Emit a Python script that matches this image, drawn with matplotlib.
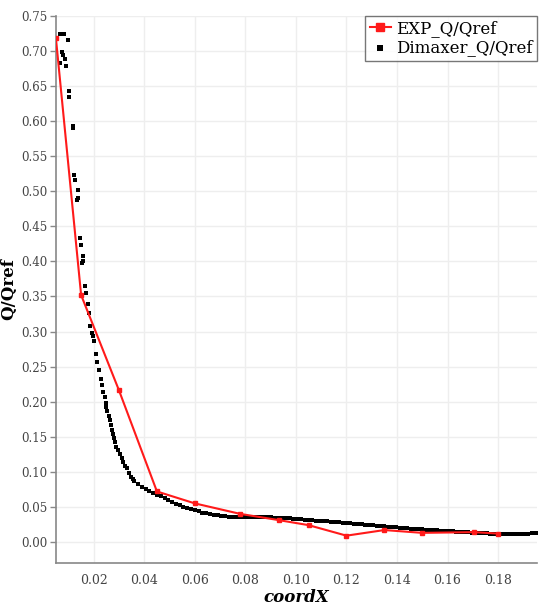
import matplotlib
matplotlib.use("Agg")
import matplotlib.pyplot as plt

# EXP data (red)
exp_x = [0.005, 0.015, 0.030, 0.045, 0.060, 0.078, 0.0935, 0.105, 0.120, 0.135, 0.150, 0.1705, 0.180]
exp_y = [0.719, 0.352, 0.216, 0.072, 0.055, 0.040, 0.031, 0.024, 0.009, 0.017, 0.013, 0.014, 0.012]

# Dimaxer data (black) - sparse steep part
dim_sparse_x = [0.0066, 0.0083, 0.0099, 0.0074, 0.0077, 0.0086, 0.0066, 0.0092, 0.0103, 0.0103,
                0.0116, 0.0118, 0.0122, 0.0125, 0.0138, 0.0134, 0.0136, 0.0145, 0.0148, 0.0158,
                0.0154, 0.0156, 0.0165, 0.0168, 0.0178, 0.0182, 0.0187, 0.0193, 0.0198, 0.0202,
                0.0207, 0.0214, 0.0220, 0.0227, 0.0231, 0.0237, 0.0244, 0.0248, 0.0250, 0.0253,
                0.0259, 0.0264, 0.0268, 0.0271, 0.0276, 0.0280, 0.0285, 0.0290, 0.0297, 0.0303,
                0.0310, 0.0317, 0.0323, 0.0330, 0.0338, 0.0346, 0.0354]
dim_sparse_y = [0.724, 0.724, 0.716, 0.698, 0.694, 0.689, 0.683, 0.679, 0.643, 0.634,
                0.593, 0.590, 0.523, 0.516, 0.502, 0.488, 0.490, 0.433, 0.423, 0.407,
                0.397, 0.400, 0.365, 0.355, 0.339, 0.327, 0.308, 0.298, 0.293, 0.286,
                0.268, 0.256, 0.245, 0.233, 0.224, 0.214, 0.206, 0.198, 0.193, 0.186,
                0.180, 0.174, 0.167, 0.160, 0.154, 0.148, 0.142, 0.136, 0.131, 0.126,
                0.120, 0.114, 0.109, 0.105, 0.099, 0.093, 0.090]

# Dimaxer data (black) - dense tail
dim_dense_x = [0.0360, 0.0375, 0.0390, 0.0405, 0.0420, 0.0435, 0.0450, 0.0465, 0.0480, 0.0495,
               0.0510, 0.0525, 0.0540, 0.0555, 0.0570, 0.0585, 0.0600, 0.0615, 0.0630, 0.0645,
               0.0660, 0.0675, 0.0690, 0.0705, 0.0720, 0.0735, 0.0750, 0.0765, 0.0780, 0.0795,
               0.0810, 0.0825, 0.0840, 0.0855, 0.0870, 0.0885, 0.0900, 0.0915, 0.0930, 0.0945,
               0.0960, 0.0975, 0.0990, 0.1005, 0.1020, 0.1035, 0.1050, 0.1065, 0.1080, 0.1095,
               0.1110, 0.1125, 0.1140, 0.1155, 0.1170, 0.1185, 0.1200, 0.1215, 0.1230, 0.1245,
               0.1260, 0.1275, 0.1290, 0.1305, 0.1320, 0.1335, 0.1350, 0.1365, 0.1380, 0.1395,
               0.1410, 0.1425, 0.1440, 0.1455, 0.1470, 0.1485, 0.1500, 0.1515, 0.1530, 0.1545,
               0.1560, 0.1575, 0.1590, 0.1605, 0.1620, 0.1635, 0.1650, 0.1665, 0.1680, 0.1695,
               0.1710, 0.1725, 0.1740, 0.1755, 0.1770, 0.1785, 0.1800, 0.1815, 0.1830, 0.1845,
               0.1860, 0.1875, 0.1890, 0.1905, 0.1920, 0.1935, 0.1950]
dim_dense_y = [0.0865, 0.0825, 0.0790, 0.0760, 0.0730, 0.0700, 0.0675, 0.0650, 0.0620, 0.0595,
               0.0570, 0.0545, 0.0520, 0.0500, 0.0480, 0.0465, 0.0450, 0.0435, 0.0420, 0.0410,
               0.0400, 0.0390, 0.0380, 0.0372, 0.0368, 0.0363, 0.0360, 0.0360, 0.0360, 0.0360,
               0.0358, 0.0357, 0.0356, 0.0355, 0.0353, 0.0352, 0.0350, 0.0348, 0.0345, 0.0342,
               0.0340, 0.0336, 0.0332, 0.0328, 0.0324, 0.0320, 0.0315, 0.0310, 0.0305, 0.0300,
               0.0296, 0.0292, 0.0288, 0.0284, 0.0280, 0.0276, 0.0272, 0.0267, 0.0262, 0.0257,
               0.0252, 0.0247, 0.0242, 0.0237, 0.0232, 0.0227, 0.0222, 0.0217, 0.0212, 0.0208,
               0.0204, 0.0200, 0.0196, 0.0192, 0.0188, 0.0184, 0.0180, 0.0176, 0.0172, 0.0168,
               0.0164, 0.0160, 0.0156, 0.0153, 0.0150, 0.0147, 0.0144, 0.0141, 0.0138, 0.0135,
               0.0132, 0.0129, 0.0126, 0.0123, 0.0120, 0.0118, 0.0116, 0.0115, 0.0114, 0.0113,
               0.0112, 0.0112, 0.0112, 0.0113, 0.0118, 0.0128, 0.0122]

x_ticks = [0.02, 0.04, 0.06, 0.08, 0.10, 0.12, 0.14, 0.16, 0.18]
y_ticks = [0.00, 0.05, 0.10, 0.15, 0.20, 0.25, 0.30, 0.35, 0.40, 0.45, 0.50, 0.55, 0.60, 0.65, 0.70, 0.75]

plt.rcParams['font.family'] = ['DejaVu Serif']

fig = plt.figure(figsize=(5.53, 6.09), dpi=100)
ax = fig.add_axes([0.101, 0.0755, 0.870, 0.8985])

ax.scatter(dim_sparse_x + dim_dense_x, dim_sparse_y + dim_dense_y, s=8, marker='s',
           color='black', linewidths=0, zorder=3, label='Dimaxer_Q/Qref')
ax.plot(exp_x, exp_y, color='#ff1a1a', lw=1.5, marker='s', markersize=3.5,
        zorder=4, label='EXP_Q/Qref')

ax.set_xlim(0.005, 0.1954)
ax.set_ylim(-0.03, 0.75)
ax.set_xticks(x_ticks)
ax.set_yticks(y_ticks)
ax.set_xticklabels([f"{v:.2f}" for v in x_ticks])
ax.set_yticklabels([f"{v:.2f}" for v in y_ticks])
ax.tick_params(axis='both', colors='#444444', length=4, width=1, color='#888888')
ax.tick_params(axis='y', labelsize=8.5, pad=2)
ax.tick_params(axis='x', labelsize=9, length=0, pad=8)
ax.grid(True, color='#eeeeee', lw=1)
ax.set_axisbelow(True)
for s in ['top', 'right']:
    ax.spines[s].set_visible(False)
for s in ['left', 'bottom']:
    ax.spines[s].set_color('#888888')
    ax.spines[s].set_linewidth(1.2)

ax.set_xlabel('coordX', fontsize=12, fontweight='bold', fontstyle='italic', labelpad=1)
ax.set_ylabel('Q/Qref', fontsize=12, fontweight='bold', labelpad=3)

handles, labels = ax.get_legend_handles_labels()
leg = ax.legend(handles[::-1], labels[::-1], loc='upper right', fontsize=12,
                frameon=True, fancybox=False, edgecolor='#555555', borderpad=0.25,
                handlelength=1.3, handletextpad=0.3, labelspacing=0.15,
                bbox_to_anchor=(1.0, 1.0), borderaxespad=0.0, markerscale=1.5)
leg.get_frame().set_linewidth(1.0)

fig.savefig('out.png', dpi=100)
